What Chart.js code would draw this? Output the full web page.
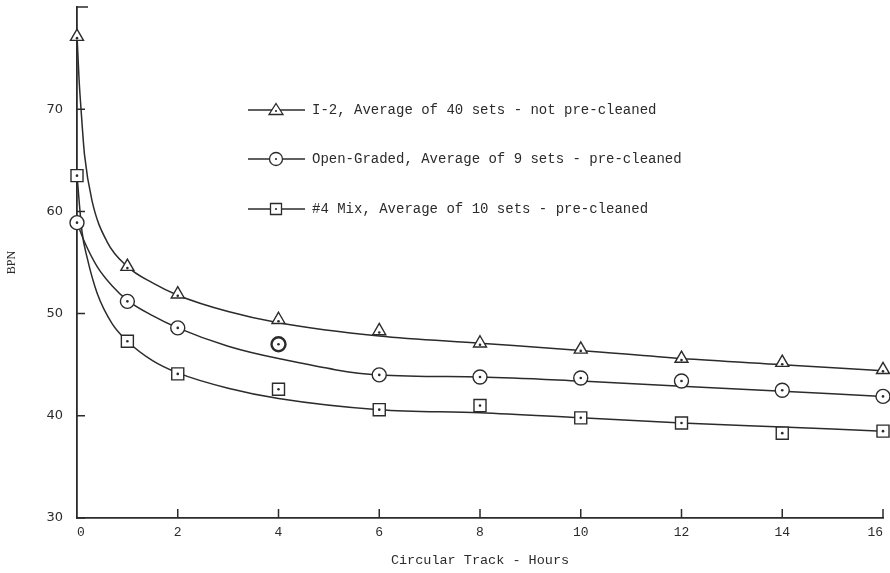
<!DOCTYPE html>
<html>
<head>
<meta charset="utf-8">
<script src="https://cdn.jsdelivr.net/npm/chart.js@4.4.1/dist/chart.umd.min.js"></script>
<style>
  html, body { margin: 0; padding: 0; background: #fff; }
  #wrap { width: 890px; height: 573px; }
</style>
</head>
<body>
<div id="wrap"><canvas id="bpnChart"></canvas></div>
<script>
// measured hours
var hours = [0, 1, 2, 4, 6, 8, 10, 12, 14, 16];
var i2Values = [77.1, 54.6, 51.9, 49.4, 48.3, 47.1, 46.5, 45.6, 45.2, 44.5];
var openGradedValues = [58.9, 51.2, 48.6, 47.0, 44.0, 43.8, 43.7, 43.4, 42.5, 41.9];
var mix4Values = [63.5, 47.3, 44.1, 42.6, 40.6, 41.0, 39.8, 39.3, 38.3, 38.5];

// hand drawn fitted curves
var i2CurveX = [0, 0.04, 0.08, 0.15, 0.3, 0.6, 1, 1.5, 2, 3, 4, 6, 8, 10, 12, 14, 16];
var i2CurveY = [77.3, 73, 70, 65.5, 61, 57, 54.6, 53, 51.8, 50.2, 49.1, 47.8, 47.1, 46.4, 45.6, 45.0, 44.4];
var ogCurveX = [0, 0.15, 0.4, 0.7, 1, 1.5, 2, 3, 4, 6, 8, 10, 12, 14, 16];
var ogCurveY = [58.9, 57.0, 54.6, 52.7, 51.3, 49.8, 48.6, 46.8, 45.6, 44.0, 43.8, 43.4, 42.9, 42.4, 41.9];
var mixCurveX = [0, 0.1, 0.2, 0.4, 0.7, 1, 1.5, 2, 3, 4, 6, 8, 10, 12, 14, 16];
var mixCurveY = [63.5, 58, 55.5, 52, 49, 47.3, 45.4, 44.2, 42.7, 41.7, 40.6, 40.3, 39.8, 39.3, 38.9, 38.5];

var legendLabels = [
  "I-2, Average of 40 sets - not pre-cleaned",
  "Open-Graded, Average of 9 sets - pre-cleaned",
  "#4 Mix, Average of 10 sets - pre-cleaned"
];
var yTicks = [30, 40, 50, 60, 70, 80];
var xTicks = [0, 2, 4, 6, 8, 10, 12, 14, 16];

var ink = '#2b2b2b';
var mono = '"Liberation Mono", "DejaVu Sans Mono", monospace';

function pts(xs, ys) {
  return xs.map(function (x, i) { return { x: x, y: ys[i] }; });
}

function curve(xs, ys) {
  return {
    data: pts(xs, ys), showLine: true, borderColor: ink, borderWidth: 1.5,
    pointRadius: 0, fill: false, cubicInterpolationMode: 'monotone',
    clip: false, order: 3
  };
}

function markers(vals, style, radius, widths) {
  return {
    data: pts(hours, vals), showLine: false, pointStyle: style,
    pointRadius: radius, pointBackgroundColor: '#fff', pointBorderColor: ink,
    pointBorderWidth: widths || 1.4, clip: false, order: 2
  };
}

function dots(vals) {
  return {
    data: pts(hours, vals), showLine: false, pointStyle: 'circle',
    pointRadius: 1.3, pointBackgroundColor: ink, pointBorderColor: ink,
    pointBorderWidth: 0, clip: false, order: 1
  };
}

// tick marks that point into the plot
var innerTicks = {
  id: 'innerTicks',
  afterDraw: function (chart) {
    var ctx = chart.ctx, a = chart.chartArea;
    var xs = chart.scales.x, ys = chart.scales.y;
    ctx.save();
    ctx.strokeStyle = ink;
    ctx.lineWidth = 1.5;
    ctx.beginPath();
    ys.ticks.forEach(function (t) {
      var py = ys.getPixelForValue(t.value);
      var len = t.value === 80 ? 11 : 8;
      ctx.moveTo(a.left, py); ctx.lineTo(a.left + len, py);
    });
    xs.ticks.forEach(function (t) {
      if (t.value === 0) return;
      var px = xs.getPixelForValue(t.value);
      ctx.moveTo(px, a.bottom); ctx.lineTo(px, a.bottom - 9);
    });
    ctx.stroke();
    ctx.restore();
  }
};

// key drawn inside the plot area
var keyBox = {
  id: 'keyBox',
  afterDraw: function (chart) {
    var ctx = chart.ctx;
    var rows = [110, 159, 209];
    ctx.save();
    ctx.strokeStyle = ink;
    ctx.fillStyle = ink;
    ctx.font = '14px ' + mono;
    ctx.textBaseline = 'middle';
    rows.forEach(function (y, i) {
      var cx = 276;
      ctx.lineWidth = 1.5;
      ctx.beginPath();
      ctx.moveTo(248, y); ctx.lineTo(305, y);
      ctx.stroke();
      ctx.beginPath();
      if (i === 0) {
        ctx.moveTo(cx, y - 6.5); ctx.lineTo(cx + 7, y + 4.5); ctx.lineTo(cx - 7, y + 4.5); ctx.closePath();
      } else if (i === 1) {
        ctx.arc(cx, y, 6.5, 0, Math.PI * 2);
      } else {
        ctx.rect(cx - 5.5, y - 5.5, 11, 11);
      }
      ctx.fillStyle = '#fff';
      ctx.fill();
      ctx.lineWidth = 1.3;
      ctx.stroke();
      ctx.fillStyle = ink;
      ctx.beginPath();
      ctx.arc(cx, y + (i === 0 ? 1 : 0), 1.1, 0, Math.PI * 2);
      ctx.fill();
      ctx.fillText(legendLabels[i], 312, y);
    });
    ctx.restore();
  }
};

var ogWidths = hours.map(function (h) { return h === 4 ? 2.4 : 1.4; });

new Chart(document.getElementById('bpnChart'), {
  type: 'scatter',
  data: {
    datasets: [
      curve(i2CurveX, i2CurveY),
      curve(ogCurveX, ogCurveY),
      curve(mixCurveX, mixCurveY),
      markers(i2Values, 'triangle', 7.5),
      markers(openGradedValues, 'circle', 7, ogWidths),
      markers(mix4Values, 'rect', 8.5),
      dots(i2Values.map(function (v) { return v - 0.15; })),
      dots(openGradedValues),
      dots(mix4Values)
    ]
  },
  options: {
    responsive: true,
    maintainAspectRatio: false,
    animation: false,
    layout: { autoPadding: false, padding: { top: 7, right: 5, left: 0, bottom: 0 } },
    plugins: { legend: { display: false }, tooltip: { enabled: false } },
    scales: {
      x: {
        type: 'linear', min: 0, max: 16,
        afterBuildTicks: function (s) { s.ticks = xTicks.map(function (v) { return { value: v }; }); },
        afterFit: function (s) { s.height = 55; },
        grid: { display: false, drawTicks: false },
        border: { display: true, color: ink, width: 1.8 },
        ticks: { color: ink, padding: 7, align: 'inner', font: { family: mono, size: 13 }, maxRotation: 0 },
        title: {
          display: true, text: 'Circular Track - Hours', color: ink,
          font: { family: mono, size: 13.5 }, padding: { top: 8, bottom: 4 }
        }
      },
      y: {
        type: 'linear', min: 30, max: 80,
        afterBuildTicks: function (s) { s.ticks = yTicks.map(function (v) { return { value: v }; }); },
        afterFit: function (s) { s.width = 77; s.paddingTop = 0; s.paddingBottom = 0; },
        grid: { display: false, drawTicks: false },
        border: { display: true, color: ink, width: 1.8 },
        ticks: {
          color: ink, padding: 14, font: { family: '"DejaVu Sans", sans-serif', size: 13 },
          callback: function (v) { return v === 80 ? '' : v; }
        },
        title: {
          display: true, text: 'BPN', color: ink,
          font: { family: '"Liberation Serif", serif', size: 12 }, padding: { top: 5, bottom: 0 }
        }
      }
    }
  },
  plugins: [innerTicks, keyBox]
});
</script>
</body>
</html>
